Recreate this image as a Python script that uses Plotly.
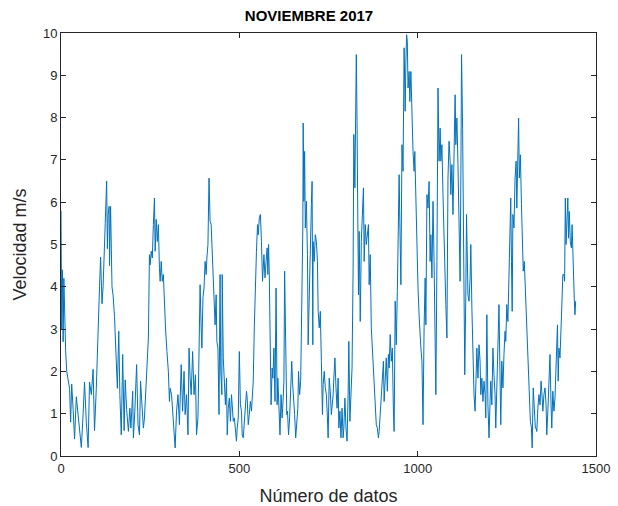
import plotly.graph_objects as go

# Data (sample index, wind speed m/s)
x_idx = [
    0, 2, 4, 6, 8, 10, 13, 16, 20, 24, 27, 30, 34, 38, 43, 48, 52, 57, 62, 66, 71, 76, 80, 85, 90, 94, 99,
    104, 108, 111, 115, 118, 121, 124, 128, 130, 132, 135, 136, 139, 143, 146, 150, 155, 158, 162, 165, 169,
    173, 177, 180, 184, 188,
    189, 193, 196, 201, 203, 207, 212, 216, 220, 223, 227, 231, 234, 238, 241, 245, 248, 250, 253, 256, 259,
    262, 264, 267, 270, 273, 276, 278, 281, 284, 287, 290, 293, 297, 301, 304, 306, 310, 314, 318, 320, 324,
    328, 332, 334, 337, 341, 345, 348, 352, 356, 359, 362, 365, 369, 373, 377,
    380, 384, 387, 390, 393, 395, 398, 401, 404, 407, 409, 412, 415, 418, 421, 423, 426, 429, 432, 435, 437,
    440, 443, 446, 448, 451, 452, 455, 458, 461, 464, 466, 469, 472, 475, 478, 480, 483, 486, 489, 492, 494,
    497, 500, 503, 506, 508, 511, 514, 517, 520, 522, 525, 528, 531, 534, 536, 539, 542, 545, 548, 551, 553,
    556, 559, 562, 565,
    569, 572, 575, 578, 580, 582, 584, 586, 589, 592, 594, 597, 600, 603, 606, 608, 611, 614, 617, 620, 622,
    625, 627, 630, 633, 635, 638, 641, 644, 647, 649, 652, 655, 658, 661, 664, 666, 669, 672, 675, 678, 679,
    681, 683, 685, 688, 691, 693, 696, 699, 702, 704, 706, 707, 710, 713, 716, 719, 721, 724, 727, 730, 733,
    735, 738, 741, 744, 747, 749, 752, 755, 758,
    763, 765, 768, 771, 774, 777, 779, 782, 785, 788, 791, 793, 796, 799, 802, 805, 807, 810, 813, 816, 819,
    821, 824, 826, 828, 830, 833, 834, 836, 839, 842, 845, 848, 850, 853, 856, 859, 862, 864, 867, 870, 873,
    876, 878, 881, 884, 887, 890, 892, 895, 898, 901, 904, 906, 909, 912, 915, 918, 920, 923, 926, 929, 932,
    934, 937, 940, 943, 946,
    948, 950, 953, 956, 959, 962, 964, 965, 967, 969, 971, 973, 976, 978, 981, 984, 987, 990, 992, 995, 998,
    1001, 1004, 1007, 1009, 1012, 1015, 1018, 1021, 1023, 1026, 1029, 1032, 1035, 1037, 1040, 1043, 1046,
    1049, 1051, 1054, 1057, 1060, 1063, 1065, 1068, 1071, 1074, 1077, 1079, 1082, 1085, 1088, 1091, 1093,
    1096, 1099, 1102, 1105, 1107, 1110, 1113, 1116, 1119, 1121, 1123, 1126, 1129, 1132, 1135, 1137,
    1141, 1144, 1147, 1149, 1152, 1155, 1158, 1161, 1163, 1166, 1169, 1172, 1175, 1177, 1180, 1183, 1186,
    1189, 1191, 1194, 1197, 1200, 1203, 1205, 1208, 1211, 1214, 1217, 1219, 1222, 1225, 1228, 1231, 1233,
    1236, 1239, 1242, 1245, 1247, 1250, 1253, 1256, 1259, 1261, 1263, 1265, 1267, 1270, 1273, 1276, 1278,
    1281, 1283, 1285, 1288, 1291, 1293, 1296, 1299, 1302, 1305, 1307, 1310, 1313, 1316, 1319, 1321, 1324,
    1327, 1330,
    1332, 1334, 1337, 1340, 1343, 1346, 1348, 1351, 1354, 1357, 1360, 1362, 1365, 1368, 1371, 1374, 1376,
    1379, 1382, 1385, 1388, 1390, 1392, 1394, 1396, 1399, 1402, 1404, 1407, 1410, 1412, 1414, 1416, 1418,
    1419, 1421, 1423, 1425, 1428, 1431, 1433, 1436, 1439, 1441, 1443,
]

velocidad = [
    5.8, 3.0, 4.4, 2.7, 4.2, 3.2, 2.5, 2.0, 1.75, 1.6, 0.8, 1.7, 1.1, 0.4, 1.4, 1.0, 0.75, 0.2, 1.0, 1.75, 0.8,
    0.2, 1.75, 1.45, 2.05, 0.6, 1.6, 3.3, 4.0, 4.7, 3.6, 4.0, 5.0, 5.5, 6.5, 4.9, 5.7, 5.9, 4.5, 5.9, 4.0, 3.8,
    3.3, 2.2, 1.6, 2.95, 1.45, 0.5, 2.4, 0.6, 1.8, 1.1, 0.8,
    0.58, 1.13, 0.66, 1.53, 0.43, 1.06, 2.16, 0.74, 0.5, 1.77, 1.06, 0.66, 0.9, 1.53, 2.16, 2.79, 4.76, 4.52,
    4.84, 4.68, 5.47, 6.1, 4.84, 5.59, 5.07, 5.47, 4.44, 4.13, 4.6, 4.13, 4.29, 3.42, 3.03, 2.47, 2.0, 1.29,
    1.6, 1.45, 0.98, 0.66, 0.19, 1.06, 1.45, 0.74, 1.53, 2.16, 1.06, 2.0, 0.98, 1.45, 0.5, 2.55, 1.84, 1.45,
    2.47, 1.45, 1.92,
    0.5, 0.9, 2.63, 4.05, 3.03, 2.55, 3.74, 3.97, 4.6, 4.29, 4.68, 5.0, 6.57, 5.55, 5.47, 5.07, 4.44, 3.66,
    3.1, 3.81, 2.71, 2.55, 0.98, 4.29, 2.0, 1.45, 4.29, 2.32, 1.77, 1.21, 1.84, 0.5, 1.13, 1.37, 0.82, 1.45,
    1.21, 0.82, 0.9, 0.66, 0.35, 0.66, 0.9, 2.47, 1.21, 1.06, 0.5, 0.43, 0.9, 1.21, 1.53, 1.37, 0.74, 0.98,
    1.29, 1.06, 1.45, 1.77, 3.03, 4.21, 4.84, 5.47, 5.23, 5.63, 5.71, 5.07, 4.13,
    4.76, 4.21, 4.6, 4.92, 4.29, 5.0, 4.29, 2.24, 1.21, 2.08, 1.84, 2.55, 1.29, 3.97, 1.21, 1.84, 1.06, 0.5,
    1.45, 0.9, 1.21, 1.77, 4.37, 2.24, 0.98, 1.06, 0.5, 0.9, 1.45, 2.24, 1.77, 1.45, 0.98, 0.43, 0.9, 1.13,
    2.0, 1.45, 1.77, 3.66, 5.39, 7.87, 6.02, 7.2, 5.39, 6.02, 4.76, 2.63, 3.97, 4.6, 5.94, 6.49, 2.63, 5.07,
    4.6, 5.23, 5.07, 4.6, 3.42, 3.03, 3.42, 2.24, 0.98, 1.69, 2.0, 1.61, 1.45, 0.9, 0.43, 1.84, 1.53, 0.98,
    1.45, 1.84, 2.32, 1.61, 1.13, 1.84, 0.66, 1.06, 0.43, 1.13, 0.43, 0.66, 1.37, 0.66, 0.35, 1.45, 2.71,
    0.82, 1.45, 2.08, 4.44, 7.6, 6.34, 9.41, 9.49, 7.91, 5.39, 3.81, 5.31, 3.18, 5.07, 5.71, 6.34, 4.6, 5.47,
    5.0, 5.23, 5.47, 4.05, 4.76, 3.03, 2.55, 2.0, 1.45, 0.98, 0.74, 0.66, 0.43, 0.58, 0.98, 1.37, 1.84, 2.24,
    1.29, 1.77, 2.32, 1.53, 2.4, 2.08, 2.87, 2.24, 2.55, 1.06, 0.58, 3.66, 2.63, 3.89, 5.55,
    6.65, 5.55, 4.05, 7.36, 6.73, 9.65, 8.7, 8.15, 9.33, 9.96, 9.8, 8.7, 9.09, 8.38, 9.09, 7.75, 7.2, 6.73,
    7.2, 6.1, 4.6, 3.97, 3.34, 2.63, 2.55, 2.24, 0.74, 3.03, 4.21, 3.1, 6.18, 5.86, 6.49, 4.6, 5.23, 4.21,
    6.02, 4.6, 3.03, 1.45, 4.6, 8.7, 6.97, 7.75, 6.97, 7.36, 6.18, 5.0, 4.21, 3.58, 2.79, 6.57, 7.44, 6.97,
    6.18, 6.89, 5.71, 6.97, 8.54, 7.36, 7.99, 6.89, 5.71, 4.13, 6.41, 9.49, 7.75, 4.6, 1.92, 3.81, 5.71,
    3.81, 3.66, 4.21, 5.0, 3.5, 2.24, 1.45, 1.06, 2.08, 2.55, 1.84, 2.63, 2.24, 1.45, 1.84, 1.29, 1.77, 1.45,
    0.9, 3.34, 1.21, 0.43, 1.29, 1.77, 1.21, 2.55, 1.92, 1.45, 0.66, 1.77, 3.18, 3.58, 1.84, 0.74, 2.24,
    1.61, 2.4, 2.95, 2.71, 3.58, 3.18, 4.29, 5.23, 6.1, 4.6, 3.42, 5.71, 5.39, 6.57, 6.97, 5.86, 7.12, 7.99,
    6.57, 7.12, 5.94, 5.39, 4.37, 4.6, 3.97, 3.42, 2.63, 2.24, 1.45, 0.82, 0.66, 0.19, 1.61, 0.9, 0.66,
    0.66, 0.58, 1.13, 1.45, 1.21, 1.77, 1.53, 1.06, 1.45, 1.61, 1.21, 0.5, 1.06, 1.61, 2.4, 1.21, 0.66, 1.53,
    1.06, 1.37, 2.24, 2.63, 3.1, 1.77, 2.55, 2.32, 3.34, 3.5, 4.29, 4.29, 4.13, 6.1, 5.0, 5.39, 5.39, 6.1,
    5.15, 5.78, 5.07, 4.92, 5.47, 4.29, 3.73, 3.34, 3.66,
]

title_text = "NOVIEMBRE 2017"
x_label = "Número de datos"
y_label = "Velocidad m/s"
x_ticks = [0, 500, 1000, 1500]
y_ticks = list(range(0, 11))

FONT = "Liberation Sans, Arial, sans-serif"

fig = go.Figure()
fig.add_trace(go.Scatter(
    x=x_idx, y=velocidad, mode="lines",
    line=dict(color="#0072BD", width=1),
    showlegend=False,
))

axis_common = dict(
    showgrid=False, zeroline=False, showline=True, linecolor="#262626", linewidth=1,
    mirror="ticks", ticks="inside", ticklen=5, tickwidth=1, tickcolor="#262626",
    automargin=False,
    tickfont=dict(family=FONT, size=13, color="#262626"),
)

fig.update_layout(
    width=618, height=506,
    margin=dict(l=61, r=22, t=33, b=50),
    paper_bgcolor="white", plot_bgcolor="white",
    title=dict(text="<b>" + title_text + "</b>", x=0.5, xanchor="center", y=0.968, yanchor="middle",
               font=dict(family=FONT, size=15, color="black")),
    xaxis=dict(range=[0, 1500], tickvals=x_ticks,
               title=dict(text=x_label, standoff=15,
                          font=dict(family=FONT, size=18, color="#262626")),
               **axis_common),
    yaxis=dict(range=[0, 10], tickvals=y_ticks,
               title=dict(text=y_label, standoff=11,
                          font=dict(family=FONT, size=18, color="#262626")),
               **axis_common),
)

fig.write_html(
    "out.html",
    config={"displayModeBar": False},
    post_script="document.body.style.margin='0';document.body.style.overflow='hidden';",
)
